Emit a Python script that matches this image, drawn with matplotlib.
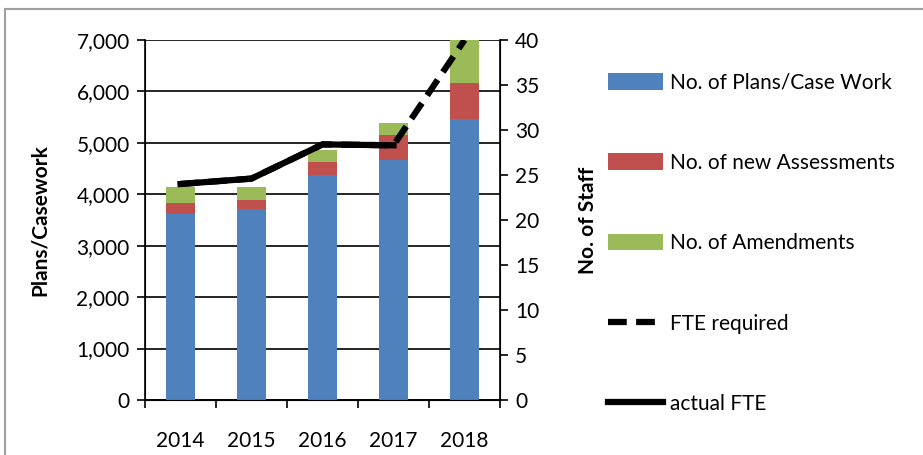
import matplotlib.pyplot as plt
import matplotlib.patches as mpatches
import numpy as np

# data
years = ["2014", "2015", "2016", "2017", "2018"]
plans = [3620, 3710, 4375, 4670, 5460]
assessments = [210, 180, 250, 480, 700]
amendments = [310, 250, 240, 230, 840]
fte_required = [24.0, 24.6, 28.4, 28.3, 40.0]
actual_fte = [24.0, 24.6, 28.4, 28.3, np.nan]

blue = "#4F81BD"
red = "#C0504D"
green = "#9BBB59"

plt.rcParams['font.family'] = ['Lato', 'DejaVu Sans']

fig = plt.figure(figsize=(9.23, 4.55), dpi=100)
ax = fig.add_axes([145 / 923, 55 / 455, 355 / 923, 360 / 455])

# grey outer frame like the pasted excel chart
fig.patches.append(mpatches.Rectangle((5 / 923, -0.1), 1.2, 1 - 9 / 455 + 0.1,
                                      transform=fig.transFigure, fill=False,
                                      edgecolor="#a0a0a0", linewidth=1.5))

x = np.arange(len(years))
w = 0.41
b1 = ax.bar(x, plans, w, color=blue, zorder=3)
bottom2 = np.array(plans)
b2 = ax.bar(x, assessments, w, bottom=bottom2, color=red, zorder=3)
bottom3 = bottom2 + np.array(assessments)
b3 = ax.bar(x, amendments, w, bottom=bottom3, color=green, zorder=3)

ax.set_xlim(-0.5, 4.5)
ax.set_ylim(0, 7000)
ax.set_yticks(range(0, 7001, 1000))
ax.set_yticklabels(["{:,}".format(v) for v in range(0, 7001, 1000)])
ax.yaxis.grid(True, color="black", linewidth=1.2, zorder=0)
ax.set_axisbelow(True)
ax.set_xticks(np.arange(-0.5, 4.6, 1))
ax.set_xticklabels([])
ax.set_xticks(x, minor=True)
ax.set_xticklabels(years, minor=True)
ax.tick_params(axis="x", which="minor", length=0, pad=22, labelsize=15)
ax.tick_params(axis="x", which="major", length=6, width=1.2, direction="out")
ax.tick_params(axis="y", length=6, width=1.2, labelsize=15, pad=5)
for s in ["left", "right", "bottom"]:
    ax.spines[s].set_linewidth(1.2)
ax.spines["top"].set_visible(False)
ax.set_ylabel("Plans/Casework", fontsize=15, fontweight="bold", labelpad=19)

ax2 = ax.twinx()
ax2.set_ylim(0, 40)
ax2.set_yticks(range(0, 41, 5))
ax2.tick_params(axis="y", length=6, width=1.2, labelsize=15, pad=5)
ax2.spines["top"].set_visible(False)
l1, = ax2.plot(x, fte_required, color="black", linewidth=4.5, linestyle=(0, (3, 1.5)), zorder=4)
l2, = ax2.plot(x, actual_fte, color="black", linewidth=4.5, zorder=5)
ax2.set_ylabel("No. of Staff", fontsize=15, fontweight="bold", labelpad=28)

fig.legend([b1, b2, b3, l1, l2],
           ["No. of Plans/Case Work", "No. of new Assessments", "No. of Amendments",
            "FTE required", "actual FTE"],
           loc="upper left", bbox_to_anchor=(598 / 923, 1 - 62 / 455),
           frameon=False, fontsize=15, labelspacing=2.9, handlelength=2.6,
           handleheight=0.85, handletextpad=0.35, borderpad=0)

fig.savefig("out.png", dpi=100)
